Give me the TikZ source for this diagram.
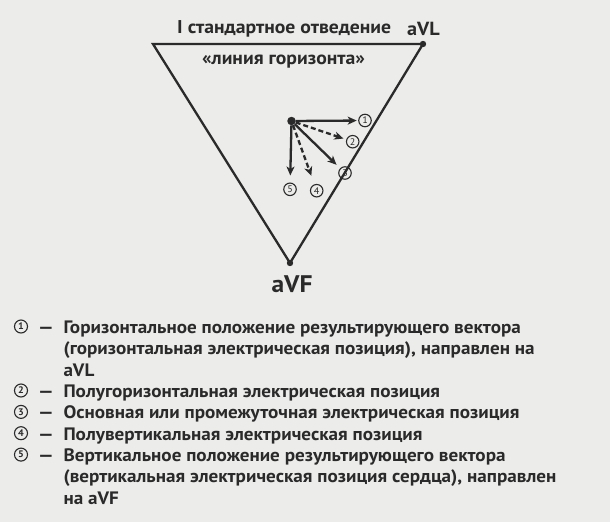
\documentclass[tikz,border=0pt]{standalone}
\usepackage{fontspec}
\setmainfont{PT Sans}[FakeStretch=1.063]
\usetikzlibrary{arrows.meta}
\definecolor{ink}{RGB}{42,42,42}
\definecolor{bgc}{RGB}{236,236,234}
\begin{document}
\begin{tikzpicture}[x=1pt,y=-1pt,
  tri/.style={draw=ink,line width=2.3pt,line join=miter},
  vec/.style={draw=ink,line width=2.3pt,-{Stealth[length=9pt,width=8pt,inset=2.5pt]}},
  dvec/.style={vec,dash pattern=on 5pt off 3pt},
  num/.style={circle,draw=ink,line width=1.1pt,minimum size=12.5pt,inner sep=0pt,text=ink,font=\fontsize{9.5}{9.5}\selectfont},
  lnum/.style={circle,draw=ink,line width=1.1pt,minimum size=13pt,inner sep=0pt,text=ink,font=\bfseries\fontsize{9.5}{9.5}\selectfont},
  lbl/.style={inner sep=0pt,text=ink,font=\bfseries\fontsize{18.5}{18.5}\selectfont},
  leg/.style={anchor=base west,inner sep=0pt,text=ink,font=\bfseries\fontsize{18}{18}\selectfont},
]
\fill[bgc] (0,0) rectangle (610,522);
\useasboundingbox (0,0) rectangle (610,522);
% triangle
\coordinate (TL) at (153,44);
\coordinate (VL) at (423,44);
\coordinate (VF) at (290,263);
\draw[tri] (TL) -- (VL) -- (VF) -- cycle;
\fill[ink] (VL) circle (3.2pt);
\fill[ink] (VF) circle (3.2pt);
% labels
\node[lbl,anchor=base west] (title) at (177,33.3) {I стандартное отведение};
\node[lbl,anchor=base west,font=\bfseries\fontsize{19}{19}\selectfont] (aVL) at (407,35) {aVL};
\node[lbl] (hor) at (283.5,62) {«линия горизонта»};
\node[lbl,anchor=base,font=\bfseries\fontsize{24}{24}\selectfont] (aVF) at (292,292) {aVF};
% vectors
\node[circle,fill=ink,inner sep=0pt,minimum size=8.5pt] (O) at (291.5,121) {};
\node[num] (c1) at (365,120.5) {1};
\node[num] (c2) at (352.7,141.7) {2};
\node[num] (c3) at (345,173) {3};
\node[num] (c4) at (316.7,190.7) {4};
\node[num] (c5) at (290,189.3) {5};
\draw[vec,shorten >=1.5pt] (O) -- (c1);
\draw[dvec,shorten >=3pt] (O) -- (c2);
\draw[vec,shorten >=5pt] (O) -- (c3);
\draw[dvec,shorten >=9pt] (O) -- (c4);
\draw[vec,shorten >=7pt] (O) -- (c5);
% legend
\node[lnum] (s1) at (21,326.5) {1};
\node[lnum] (s2) at (21,390.5) {2};
\node[lnum] (s3) at (21,411.9) {3};
\node[lnum] (s4) at (21,433.2) {4};
\node[lnum] (s5) at (21,454.6) {5};
\node[leg] (d1) at (38,333.3) {—};
\node[leg] (d2) at (38,397.3) {—};
\node[leg] (d3) at (38,418.7) {—};
\node[leg] (d4) at (38,440.0) {—};
\node[leg] (d5) at (38,461.4) {—};
\node[leg] (l1) at (63.3,333.3) {Горизонтальное положение результирующего вектора};
\node[leg] (l2) at (63.3,354.6) {(горизонтальная электрическая позиция), направлен на};
\node[leg] (l3) at (63.3,376.0) {aVL};
\node[leg] (l4) at (63.3,397.3) {Полугоризонтальная электрическая позиция};
\node[leg] (l5) at (63.3,418.7) {Основная или промежуточная электрическая позиция};
\node[leg] (l6) at (63.3,440.0) {Полувертикальная электрическая позиция};
\node[leg] (l7) at (63.3,461.4) {Вертикальное положение результирующего вектора};
\node[leg] (l8) at (63.3,482.7) {(вертикальная электрическая позиция сердца), направлен};
\node[leg] (l9) at (63.3,504.0) {на aVF};
\end{tikzpicture}
\end{document}
